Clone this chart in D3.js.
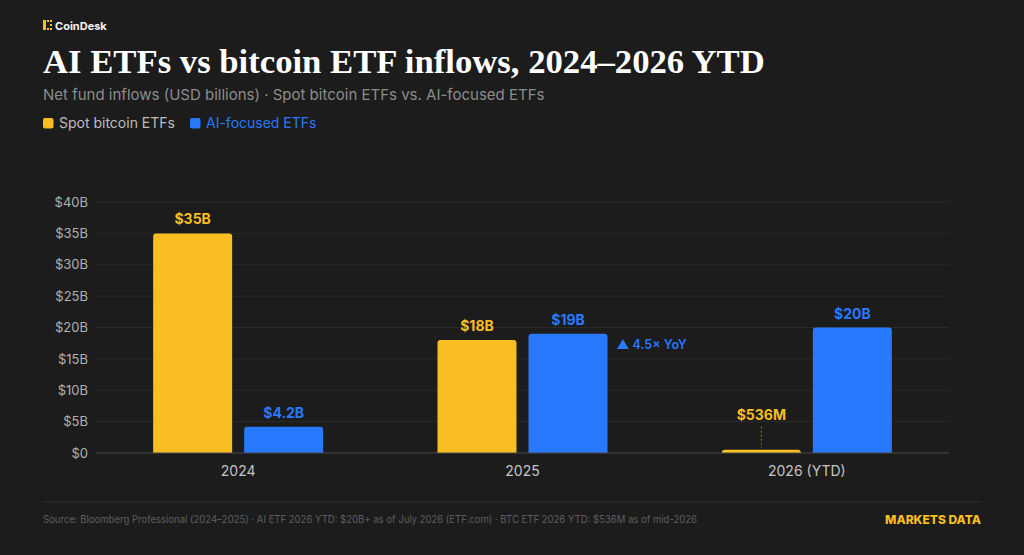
<!DOCTYPE html>
<html>
<head>
<meta charset="utf-8">
<script src="https://cdn.jsdelivr.net/npm/d3@7"></script>
<style>
  html, body { margin: 0; padding: 0; background: #1c1c1c; }
  svg { display: block; }
</style>
</head>
<body>
<div id="chart"></div>
<script>
const years = ["2024", "2025", "2026 (YTD)"];
const series = ["Spot bitcoin ETFs", "AI-focused ETFs"];
const btcValues = [35, 18, 0.536];
const aiValues = [4.2, 19, 20];
const btcLabels = ["$35B", "$18B", "$536M"];
const aiLabels = ["$4.2B", "$19B", "$20B"];
const yTicks = [0, 5, 10, 15, 20, 25, 30, 35, 40];

const width = 1024, height = 555;
const yellow = "#f8be22", blue = "#2979ff";
const sans = "Inter, 'Noto Sans', sans-serif";

const svg = d3.select("#chart").append("svg")
  .attr("width", width)
  .attr("height", height);

svg.append("rect").attr("width", width).attr("height", height).attr("fill", "#1c1c1c");

// logo
const logo = svg.append("g").attr("transform", "translate(43,20)");
logo.append("rect").attr("x", 0).attr("y", 0).attr("width", 3).attr("height", 10).attr("fill", yellow);
[[4, 0], [7, 0], [4, 8], [7, 8], [7, 4]].forEach(([x, y]) => {
  logo.append("rect").attr("x", x).attr("y", y).attr("width", 2).attr("height", 2).attr("fill", yellow);
});
svg.append("text").attr("x", 55).attr("y", 29.5)
  .attr("font-family", sans).attr("font-weight", 700).attr("font-size", 11)
  .attr("fill", "#f2f2f2").text("CoinDesk");

// title
const title = svg.append("text").attr("x", 43).attr("y", 73)
  .attr("font-family", "'Liberation Serif', 'DejaVu Serif', serif")
  .attr("font-weight", 700).attr("font-size", 36)
  .attr("fill", "#ffffff")
  .text("AI ETFs vs bitcoin ETF inflows, 2024–2026 YTD");
const tl = title.node().getComputedTextLength();
title.attr("font-size", Math.min(40, 36 * 722 / tl));

svg.append("text").attr("x", 43).attr("y", 100)
  .attr("font-family", sans).attr("font-size", 15)
  .attr("fill", "#8c8c8c")
  .text("Net fund inflows (USD billions) · Spot bitcoin ETFs vs. AI-focused ETFs");

// legend
const legend = svg.append("g").attr("transform", "translate(43,118)");
const legX = [0, 147];
series.forEach((s, i) => {
  const g = legend.append("g").attr("transform", `translate(${legX[i]},0)`);
  g.append("rect").attr("width", 10.5).attr("height", 10.5).attr("rx", 2)
    .attr("fill", i === 0 ? yellow : blue);
  g.append("text").attr("x", 16).attr("y", 10)
    .attr("font-family", sans).attr("font-size", 14)
    .attr("fill", i === 0 ? "#bdbdbd" : blue).text(s);
});

// scales
const x0 = d3.scaleBand().domain(years).range([96, 949]).paddingInner(0.402).paddingOuter(0.201);
const x1 = d3.scaleBand().domain(series).range([0, x0.bandwidth()]).paddingInner(0.132);
const y = d3.scaleLinear().domain([0, 40]).range([453, 202]);

// grid
svg.append("g").selectAll("line").data(yTicks.filter(d => d > 0)).join("line")
  .attr("x1", 96).attr("x2", 949)
  .attr("y1", d => y(d)).attr("y2", d => y(d))
  .attr("stroke", "#2a2a2a").attr("stroke-width", 1);

const yAxis = svg.append("g").attr("transform", "translate(96,0)")
  .call(d3.axisLeft(y).tickValues(yTicks).tickSize(0).tickPadding(8)
    .tickFormat(d => "$" + d + (d === 0 ? "" : "B")));
yAxis.select(".domain").remove();
yAxis.selectAll("text").attr("font-family", sans).attr("font-size", 13).attr("fill", "#b0b0b0");

// bars
const rows = years.map((yr, i) => ({
  year: yr,
  vals: [
    { s: series[0], v: btcValues[i], label: btcLabels[i], color: yellow },
    { s: series[1], v: aiValues[i], label: aiLabels[i], color: blue }
  ]
}));

function topRounded(xp, yp, w, h, r) {
  r = Math.min(r, h, w / 2);
  return `M${xp},${yp + h}V${yp + r}Q${xp},${yp} ${xp + r},${yp}H${xp + w - r}Q${xp + w},${yp} ${xp + w},${yp + r}V${yp + h}Z`;
}

const groups = svg.append("g").selectAll("g").data(rows).join("g")
  .attr("transform", d => `translate(${x0(d.year)},0)`);

groups.selectAll("path").data(d => d.vals).join("path")
  .attr("d", d => topRounded(x1(d.s), y(d.v), x1.bandwidth(), y(0) - y(d.v), 3))
  .attr("fill", d => d.color);

groups.selectAll("text.val").data(d => d.vals).join("text")
  .attr("class", "val")
  .attr("x", d => x1(d.s) + x1.bandwidth() / 2)
  .attr("y", d => d.v < 2 ? y(d.v) - 30 : y(d.v) - 9)
  .attr("text-anchor", "middle")
  .attr("font-family", sans).attr("font-weight", 700).attr("font-size", 14)
  .attr("fill", d => d.color).text(d => d.label);

// leader line for the tiny bar
groups.selectAll("line.lead").data(d => d.vals.filter(v => v.v < 2)).join("line")
  .attr("class", "lead")
  .attr("x1", d => x1(d.s) + x1.bandwidth() / 2)
  .attr("x2", d => x1(d.s) + x1.bandwidth() / 2)
  .attr("y1", d => y(d.v) - 23).attr("y2", d => y(d.v) - 2)
  .attr("stroke", "#8a7a3a").attr("stroke-dasharray", "2,2").attr("stroke-width", 1);

// baseline
svg.append("line").attr("x1", 96).attr("x2", 949).attr("y1", y(0)).attr("y2", y(0))
  .attr("stroke", "#4a4a4a").attr("stroke-width", 1);

// x axis labels
svg.append("g").selectAll("text").data(years).join("text")
  .attr("x", d => x0(d) + x0.bandwidth() / 2)
  .attr("y", 476)
  .attr("text-anchor", "middle")
  .attr("font-family", sans).attr("font-size", 14)
  .attr("fill", "#c4c4c4").text(d => d);

// YoY note next to the 2025 AI bar
const noteX = x0("2025") + x1(series[1]) + x1.bandwidth() + 9;
const noteY = y(aiValues[1]) + 10;
svg.append("text").attr("x", noteX).attr("y", noteY + 5)
  .attr("font-family", sans).attr("font-weight", 600).attr("font-size", 12.5)
  .attr("fill", blue).text("▲ 4.5× YoY");

// footer
svg.append("line").attr("x1", 43).attr("x2", 981).attr("y1", 502).attr("y2", 502)
  .attr("stroke", "#2e2e2e").attr("stroke-width", 1);
svg.append("text").attr("x", 43).attr("y", 523)
  .attr("font-family", sans).attr("font-size", 10.5).attr("fill", "#5e5e5e")
  .attr("textLength", 654).attr("lengthAdjust", "spacingAndGlyphs")
  .text("Source: Bloomberg Professional (2024–2025) · AI ETF 2026 YTD: $20B+ as of July 2026 (ETF.com) · BTC ETF 2026 YTD: $536M as of mid-2026");
svg.append("text").attr("x", 981).attr("y", 524).attr("text-anchor", "end")
  .attr("font-family", sans).attr("font-weight", 800).attr("font-size", 12)
  .attr("fill", yellow).text("MARKETS DATA");
</script>
</body>
</html>
